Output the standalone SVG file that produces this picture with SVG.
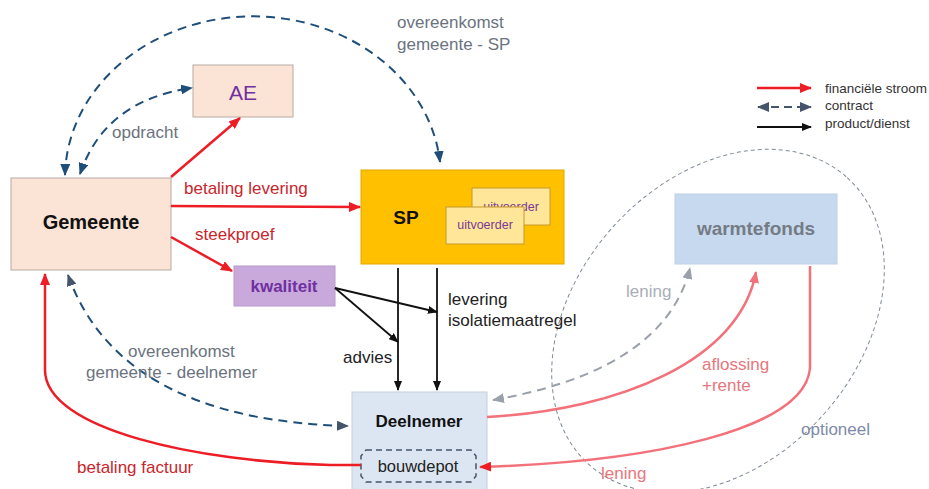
<svg xmlns="http://www.w3.org/2000/svg" width="929" height="489" viewBox="0 0 929 489">
<style>
text{font-family:"Liberation Sans",Arial,sans-serif}
.box{stroke:#b8aaa2;stroke-width:1}
.lbl{font-size:17px}
.gray{fill:#6b7380}
.red{fill:#c8262d}
.fin{fill:none;stroke:#ee1c24;stroke-width:2.5}
.finl{fill:none;stroke:#f2717a;stroke-width:2.5}
.con{fill:none;stroke:#1f4e79;stroke-width:2;stroke-dasharray:9,6}
.prod{fill:none;stroke:#111;stroke-width:1.8}
.leg{font-size:13.5px;fill:#333}
</style>
<defs>
<marker id="mr" markerUnits="userSpaceOnUse" markerWidth="12" markerHeight="10" refX="11" refY="5" orient="auto-start-reverse"><path d="M0,0 L12,5 L0,10 z" fill="#ee1c24"/></marker>
<marker id="mrl" markerUnits="userSpaceOnUse" markerWidth="12" markerHeight="10" refX="11" refY="5" orient="auto-start-reverse"><path d="M0,0 L12,5 L0,10 z" fill="#f2717a"/></marker>
<marker id="mn" markerUnits="userSpaceOnUse" markerWidth="12" markerHeight="10" refX="11" refY="5" orient="auto-start-reverse"><path d="M0,0 L12,5 L0,10 z" fill="#1f4e79"/></marker>
<marker id="mg" markerUnits="userSpaceOnUse" markerWidth="12" markerHeight="10" refX="11" refY="5" orient="auto-start-reverse"><path d="M0,0 L12,5 L0,10 z" fill="#9aa1ab"/></marker>
<marker id="ml" markerUnits="userSpaceOnUse" markerWidth="12" markerHeight="10" refX="11" refY="5" orient="auto-start-reverse"><path d="M0,0 L12,5 L0,10 z" fill="#44546a"/></marker>
<marker id="mb" markerUnits="userSpaceOnUse" markerWidth="10" markerHeight="8" refX="9" refY="4" orient="auto-start-reverse"><path d="M0,0 L10,4 L0,8 z" fill="#111"/></marker>
</defs>
<rect width="929" height="489" fill="#fff"/>

<ellipse id="optioneel-zone" cx="718" cy="321" rx="193" ry="141" transform="rotate(-48 718 321)" fill="none" stroke="#7f8a99" stroke-width="1" stroke-dasharray="4,3"/>

<g id="gemeente">
<rect class="box" x="11" y="178" width="160" height="92" fill="#fbe3d6"/>
<text x="91" y="229" text-anchor="middle" font-size="20" font-weight="bold" fill="#111">Gemeente</text>
</g>
<g id="ae">
<rect class="box" x="193" y="65" width="100" height="52" fill="#fbe3d6"/>
<text x="243" y="100" text-anchor="middle" font-size="21" fill="#7030a0">AE</text>
</g>
<g id="sp">
<rect x="361" y="170" width="203" height="94" fill="#ffc000" stroke="#e0a800" stroke-width="1"/>
<text x="406" y="224" text-anchor="middle" font-size="19" font-weight="bold" fill="#111">SP</text>
<rect x="472" y="188" width="78" height="37" fill="#ffe699" stroke="#c49a2c" stroke-width="1"/>
<text x="511" y="211" text-anchor="middle" font-size="12.5" fill="#7b3a96">uitvoerder</text>
<rect x="446" y="207" width="78" height="37" fill="#ffe699" stroke="#c49a2c" stroke-width="1"/>
<text x="485" y="229" text-anchor="middle" font-size="12.5" fill="#7b3a96">uitvoerder</text>
</g>
<g id="kwaliteit">
<rect x="234" y="266" width="101" height="40" fill="#c9a9dc" stroke="#b79acb" stroke-width="1"/>
<text x="284" y="292" text-anchor="middle" font-size="17" font-weight="bold" fill="#7030a0">kwaliteit</text>
</g>
<g id="deelnemer">
<rect x="352" y="392" width="135" height="100" fill="#dce6f2" stroke="#c5cfdb" stroke-width="1"/>
<text x="419" y="427" text-anchor="middle" font-size="17" font-weight="bold" fill="#111">Deelnemer</text>
<path d="M366,450 L471,450 L476,456 L476,476 L471,482 L366,482 L361,476 L361,456 Z" fill="none" stroke="#44546a" stroke-width="1.5" stroke-dasharray="6,4"/>
<text x="418" y="472" text-anchor="middle" font-size="16.5" fill="#222">bouwdepot</text>
</g>
<g id="warmtefonds">
<rect x="675" y="194" width="162" height="70" fill="#c6d9ee" stroke="#c0d2e6" stroke-width="1"/>
<text x="756" y="235" text-anchor="middle" font-size="19" font-weight="bold" fill="#757b85">warmtefonds</text>
</g>

<g id="connectors">
<path class="con" d="M65,175 A188,162 0 0 1 440,162" marker-start="url(#mn)" marker-end="url(#mn)"/>
<path class="con" d="M80,174 Q105,100 192,88" marker-start="url(#mn)" marker-end="url(#mn)"/>
<path class="con" d="M68,275 Q120,420 348,426" stroke="#44546a" marker-start="url(#ml)" marker-end="url(#ml)"/>
<path d="M493,400 C580,385 670,350 690,268" fill="none" stroke="#9aa1ab" stroke-width="2" stroke-dasharray="9,6" marker-start="url(#mg)" marker-end="url(#mg)"/>
<path class="fin" d="M171,177 L240,118" marker-end="url(#mr)"/>
<path class="fin" d="M171,206 L360,207" marker-end="url(#mr)"/>
<path class="fin" d="M171,237 L232,271" marker-end="url(#mr)"/>
<path class="fin" d="M361,465 L330,465 C200,462 45,430 45,370 L45,274" marker-end="url(#mr)"/>
<path class="finl" d="M487,417 C620,410 740,360 756,272" marker-end="url(#mrl)"/>
<path class="finl" d="M810,266 L810,368 C805,430 650,462 480,467" marker-end="url(#mr)"/>
<path class="prod" d="M398,268 L398,390" marker-end="url(#mb)"/>
<path class="prod" d="M437,268 L437,390" marker-end="url(#mb)"/>
<path class="prod" d="M335,288 L437,312" marker-end="url(#mb)"/>
<path class="prod" d="M335,288 L398,342" marker-end="url(#mb)"/>
</g>

<g id="labels">
<text class="lbl gray" x="397" y="28">overeenkomst</text>
<text class="lbl gray" x="397" y="50">gemeente - SP</text>
<text class="lbl gray" x="112" y="138">opdracht</text>
<text class="lbl red" x="184" y="194">betaling levering</text>
<text class="lbl red" x="195" y="240">steekproef</text>
<text class="lbl" x="448" y="305" fill="#222">levering</text>
<text class="lbl" x="448" y="326" fill="#222">isolatiemaatregel</text>
<text class="lbl" x="343" y="363" fill="#222">advies</text>
<text class="lbl gray" x="128" y="357">overeenkomst</text>
<text class="lbl gray" x="86" y="378">gemeente - deelnemer</text>
<text class="lbl red" x="77" y="473">betaling factuur</text>
<text class="lbl" x="626" y="297" fill="#a9afb8">lening</text>
<text class="lbl" x="702" y="370" fill="#e8767d">aflossing</text>
<text class="lbl" x="702" y="391" fill="#e8767d">+rente</text>
<text class="lbl" x="601" y="479" fill="#e8767d">lening</text>
<text class="lbl" x="801" y="435" fill="#7d8aa8">optioneel</text>
</g>

<g id="legend">
<path d="M757,88 L811,88" fill="none" stroke="#ee1c24" stroke-width="2.5" marker-end="url(#mr)"/>
<path d="M758,107 L811,107" fill="none" stroke="#44546a" stroke-width="2" stroke-dasharray="8,5" marker-start="url(#ml)" marker-end="url(#ml)"/>
<path d="M757,127 L811,127" fill="none" stroke="#111" stroke-width="2.2" marker-end="url(#mb)"/>
<text class="leg" x="825" y="93">financiële stroom</text>
<text class="leg" x="825" y="110">contract</text>
<text class="leg" x="825" y="128">product/dienst</text>
</g>
</svg>
